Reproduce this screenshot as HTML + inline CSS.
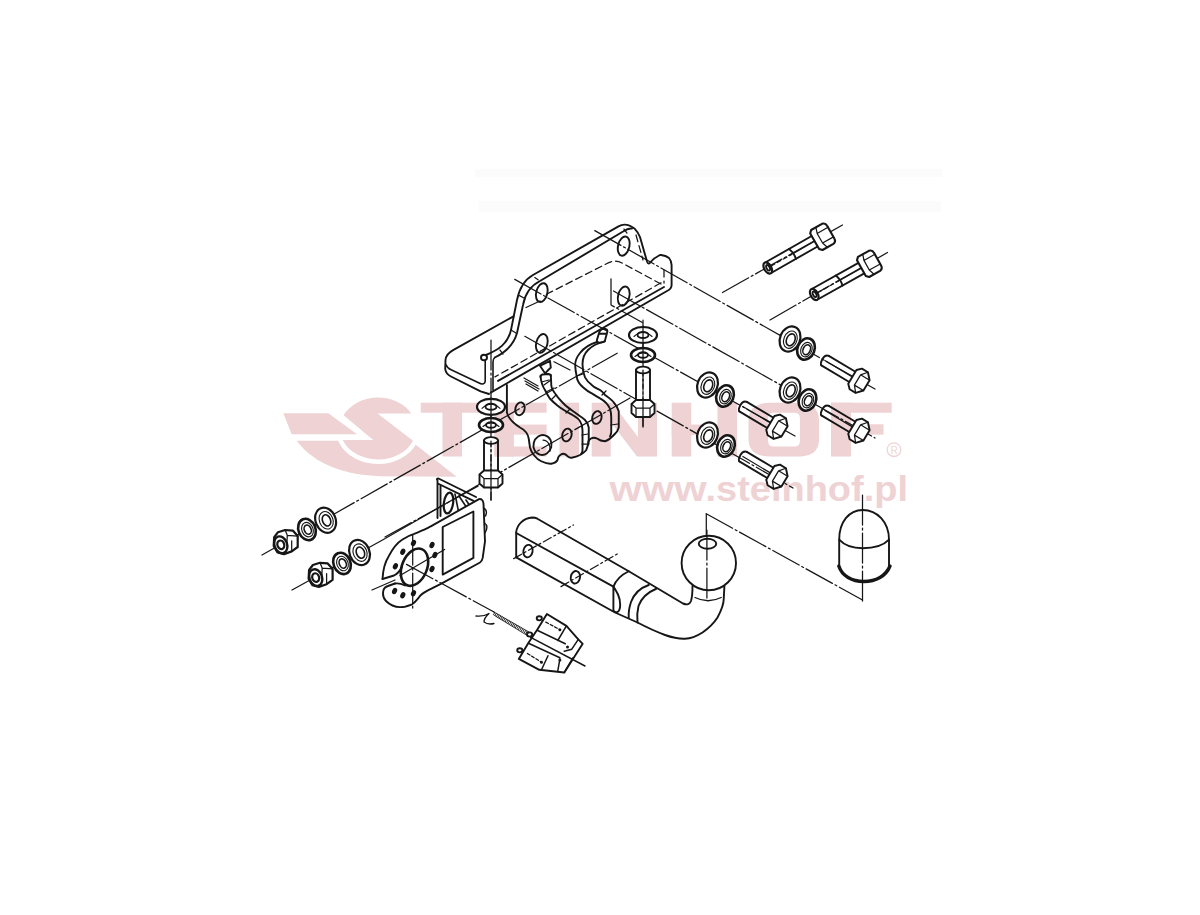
<!DOCTYPE html>
<html><head><meta charset="utf-8"><title>Steinhof tow bar</title>
<style>
html,body{margin:0;padding:0;background:#fff;}
body{width:1200px;height:915px;overflow:hidden;position:relative;font-family:"Liberation Sans",sans-serif;}
svg{position:absolute;left:0;top:0;}
.wm{fill:#eed2d4;}
.ln{fill:none;stroke:#161616;stroke-width:1.9;stroke-linecap:round;stroke-linejoin:round;}
.th{stroke-width:2.2;}
.tn{stroke-width:1.25;}
.dd{stroke-dasharray:30 3 2 3;}
.ds{stroke-dasharray:7 4;}
.fw{fill:#fff;}
</style></head>
<body>
<svg width="1200" height="915" viewBox="0 0 1200 915">
<g fill="#fbfbfb">
  <rect x="475" y="169" width="467" height="8"/>
  <rect x="479" y="201" width="462" height="11"/>
</g>
<!-- WATERMARK -->
<g class="wm">
  <path d="M283.3,413.3 L328.3,413.3 L357,434.2 L291.7,434.2 Z"/>
  <path d="M296.7,440.8 L410.6,440.8 L456.7,476.7 L380,476.2 C345,475 315,465 296.7,440.8 Z"/>
  <path d="M377.5,413.4 L411.1,413.4 A38,31 0 0 0 343.6,415.3 L373.3,440 L342.7,440 A38,31 0 0 0 413,440.7 Z" stroke="#fff" stroke-width="9" paint-order="stroke"/>
  <!-- T -->
  <rect x="420.8" y="402.7" width="62.8" height="10"/>
  <rect x="442.5" y="402.7" width="19.5" height="53.8"/>
  <!-- E -->
  <rect x="494.4" y="402.7" width="19.5" height="53.8"/>
  <rect x="494.4" y="402.7" width="52.2" height="10"/>
  <rect x="494.4" y="424.6" width="52.2" height="10"/>
  <rect x="494.4" y="446.5" width="52.2" height="10"/>
  <!-- I -->
  <rect x="559.5" y="402.7" width="19.5" height="53.8"/>
  <!-- N -->
  <path d="M591.7,402.7 L612,402.7 L638,437 L638,402.7 L657,402.7 L657,456.5 L637,456.5 L610.7,422 L610.7,456.5 L591.7,456.5 Z"/>
  <!-- H -->
  <rect x="671.7" y="402.7" width="19.5" height="53.8"/>
  <rect x="717.5" y="402.7" width="19.5" height="53.8"/>
  <rect x="671.7" y="424.6" width="65" height="10.5"/>
  <!-- O -->
  <path fill-rule="evenodd" d="M770,402.7 L798,402.7 C813,402.7 819,410 819,420 L819,439 C819,450 813,456.5 798,456.5 L770,456.5 C755,456.5 748.5,450 748.5,439 L748.5,420 C748.5,410 755,402.7 770,402.7 Z M774,412.7 C769,412.7 768,415 768,420 L768,439 C768,444 769,446.5 774,446.5 L794,446.5 C799,446.5 800,444 800,439 L800,420 C800,415 799,412.7 794,412.7 Z"/>
  <!-- F -->
  <rect x="831" y="402.7" width="20" height="53.8"/>
  <rect x="831" y="402.7" width="60.7" height="10"/>
  <rect x="831" y="424.3" width="52.5" height="10.3"/>
  <!-- (R) -->
  <circle cx="894" cy="449.7" r="6.8" fill="none" stroke="#efd4d4" stroke-width="1.3"/>
  <text x="894" y="453.5" font-size="10" text-anchor="middle" font-family="Liberation Sans" fill="#efd4d4">R</text>
  <text x="609.5" y="501" font-size="34.5" font-weight="bold" font-family="Liberation Sans" textLength="97" lengthAdjust="spacingAndGlyphs">www</text>
  <text x="705.5" y="501" font-size="34.5" font-weight="bold" font-family="Liberation Sans" textLength="202.5" lengthAdjust="spacingAndGlyphs">.steinhof.pl</text>
</g>
<!-- DRAWING -->
<g class="ln" id="drawing">

<defs>
  <!-- washer facing X axis (bolts going down-right) -->
  <g id="wXb">
    <ellipse rx="10" ry="13" transform="rotate(22)" class="th" fill="#fff"/>
    <ellipse rx="6.5" ry="9" transform="rotate(22) translate(0.6,0.5)" stroke-width="1.1"/>
    <ellipse rx="4.2" ry="6.2" transform="rotate(22) translate(1,0.5)" stroke-width="1.6"/>
  </g>
  <g id="wXs">
    <ellipse rx="8.5" ry="11" transform="rotate(22)" class="th" style="stroke-width:2.6" fill="#fff"/>
    <ellipse rx="5.5" ry="7.5" transform="rotate(22) translate(0.6,0.4)" stroke-width="1.1"/>
    <ellipse rx="3.6" ry="5.2" transform="rotate(22) translate(0.9,0.4)" stroke-width="1.6"/>
  </g>
  <!-- short bolt along X: local origin at shank end -->
  <g id="bX">
    <path d="M2,-6 L34,-6 M0.5,6 L33,6" fill="none"/>
    <path d="M1,0 L34,0" class="tn"/>
    <path d="M2,-6 Q-2,-5.5 -1.8,0 Q-1.5,5.5 0.5,6"/>
    <path d="M33,-8 L37,-12 L44,-12 L49.5,-6 L49.5,6 L44,12 L37,12 L33,8 Z" fill="#fff"/>
    <path d="M44,-12 L39,-6 L39,6 L44,12 M39,-6 L49.5,-6 M39,6 L49.5,6" class="tn"/>
  </g>
  <!-- long bolt -->
  <g id="bL">
    <path d="M1,-6 L55,-6 M1,6 L57,6" />
    <path d="M28,-6 Q30.5,0 29,6" />
    <path d="M30,0 L56,0" class="tn"/>
    <path d="M4,0 L28,0" class="tn" stroke-dasharray="4 3"/>
    <ellipse cx="0" cy="0" rx="3.6" ry="6.2" fill="#fff" stroke-width="2.2"/>
    <ellipse cx="0.4" cy="0" rx="1.6" ry="3"/>
    <path d="M54,-9 L56.5,-11.5 L69,-11.5 Q72.5,-11 72.5,-7 L72.5,7 Q72.5,11 69,11.5 L56.5,11.5 L54,9 Z" fill="#fff" stroke-width="2.1"/>
    <path d="M62,-11.5 L60,-5.5 L60,5.5 L62,11.5 M60,-5.5 L72.5,-5.5 M60,5.5 L72.5,5.5" class="tn"/>
  </g>
  <!-- washers along Y axis (left nuts) -->
  <g id="wYb">
    <ellipse rx="10" ry="13" transform="rotate(-22)" class="th" fill="#fff"/>
    <ellipse rx="6.8" ry="9" transform="rotate(-22) translate(0.5,0.3)" stroke-width="1.1"/>
    <ellipse rx="4" ry="5.8" transform="rotate(-22) translate(0.8,0.5)" stroke-width="1.6"/>
  </g>
  <g id="wYs">
    <ellipse rx="8.5" ry="11" transform="rotate(-22)" class="th" style="stroke-width:2.6" fill="#fff"/>
    <ellipse rx="5.6" ry="7.5" transform="rotate(-22) translate(0.4,0.3)" stroke-width="1.1"/>
    <ellipse rx="3.4" ry="4.8" transform="rotate(-22) translate(0.6,0.4)" stroke-width="1.6"/>
  </g>
  <g id="nY">
    <path d="M-6.6,-7.6 L-2.8,-12.6 L4.3,-14.8 L12,-14.2 L16.9,-8.7 L16.9,2.2 L10.9,6.6 L3.2,9.3 L-3.3,7.7 L-7.1,1.1 Z" fill="#fff" class="th"/>
    <ellipse rx="6.3" ry="8.6" transform="rotate(-20)" stroke-width="2.4"/>
    <ellipse rx="3.4" ry="4.4" transform="rotate(-20)" stroke-width="2.2"/>
    <path d="M4.3,-14.8 L6.5,-9.5 L16.9,-8.7 M6.5,-9.5 L6,0 M10.9,-4 L10.9,6.6" class="tn"/>
  </g>
  <!-- vertical washer -->
  <g id="wZb">
    <ellipse rx="14" ry="8" class="th" fill="#fff"/>
    <path d="M-9,1.5 Q0,-7 9,1.5" stroke-width="1.1"/>
    <ellipse rx="5.5" ry="3" stroke-width="1.9"/>
  </g>
  <g id="wZs">
    <ellipse rx="12" ry="7" class="th" style="stroke-width:2.6" fill="#fff"/>
    <path d="M-8,1.5 Q0,-6 8,1.5" stroke-width="1.1"/>
    <ellipse rx="5" ry="2.8" stroke-width="1.9"/>
  </g>
  <g id="bZ">
    <path d="M-7,0 L-7,31 M7,0 L7,31" />
    <ellipse rx="7" ry="3.4" fill="#fff"/>
    <path d="M-11.5,34 L-7,30 L7,30 L11.5,34 L11.5,43 L7,47 L-7,47 L-11.5,43 Z" fill="#fff"/>
    <path d="M-11.5,34 L-7,38 L7,38 L11.5,34 M-7,38 L-7,47 M7,38 L7,47" class="tn"/>
  </g>
</defs>

<!-- center lines (dash-dot) -->
<g class="tn dd">
  <path d="M594.8,230.6 L875,389"/>
  <path d="M613.5,291 L875,438"/>
  <path d="M514.8,279.4 L795,436"/>
  <path d="M524.8,336.3 L793,488"/>
  <path d="M722.5,292.5 L842.5,225"/>
  <path d="M770,320 L887.5,252.5"/>
  <path d="M262,555 L617.2,353.2"/>
  <path d="M292,590 L385.6,538.3 M476,486.3 L630,398"/>
  <path d="M491,340 L491,500"/>
  <path d="M643,320 L643,427"/>
  <path d="M611,278.8 L611,305 L642.3,322.5"/>
  <path d="M385,537 L480,485"/>
            <path d="M706.3,513.8 L862.5,600"/>
    <path d="M862.5,495 L862.5,602"/>
  </g>
<path class="tn" d="M706.3,513.8 L706.3,540"/>

<!-- MAIN BRACKET -->
<g>
  <!-- flange left end -->
  <path d="M513.5,316.3 L453.1,350.1 Q446,354 445.5,360 L445.2,369.1 Q446,374 451,376.5 L480.6,391.4 L489,394"/>
  <path d="M445.9,364.5 Q447,368 451.1,369.8 L478.6,382.8 Q482.6,385 484.5,383 Q485.2,382 485.2,380.9 L485.2,361" stroke-width="1.6"/>
  <!-- S-profile outer & inner top edges -->
  <path d="M486,355 C498,350 508,344 511,330 L517,300 C519,290 524,280 533,275 L618.5,226.3 Q626,222 634.8,228.8 Q638,232 640,237 L647,261.5 Q648.5,265.5 650.6,262 Q654,258 659.9,255 L661,255 Q666,255.5 669,258 Q671.6,261 671.6,265 L671.6,285 Q671.6,289 667,291 L490.7,392.6"/>
  <path d="M494.8,357.5 C506,352 514,344 517,333 L523,305 C525,294 530,286 540,281 L623.5,231.3 Q628,228 632,228.5"/>
  <path d="M664,287 L498,380.9"/>
  <path d="M664,270 L664,283" class="tn ds"/>
  <path d="M661,284 L622,263 Q614,259 606,264 L543,296" class="tn ds"/>
  <path d="M526,307.5 L540,301" class="tn"/>
  <path d="M534.8,277.6 L538.1,279.8 M519.5,295.6 L524.4,298.3 M511,330 L516,333 M500,350 L503,354 M624,229 L627,233" class="tn"/>
  <path d="M661,282.8 L495,376.9" class="tn ds"/>
  <path d="M636,235 L643,260" class="tn ds"/>
  <path d="M494.8,357.5 Q493,359 493,362 L493,390" stroke-width="1.6"/>
  <ellipse cx="484" cy="357.5" rx="3" ry="2.8"/>
  <!-- holes -->
  <ellipse cx="541.8" cy="292.6" rx="5.6" ry="9.6" transform="rotate(14 541.8 292.6)"/>
  <ellipse cx="541.8" cy="343.4" rx="5.6" ry="9.6" transform="rotate(14 541.8 343.4)"/>
  <ellipse cx="623.7" cy="246.1" rx="5.6" ry="9.8" transform="rotate(14 623.7 246.1)"/>
  <ellipse cx="623.7" cy="296.1" rx="5.6" ry="9.8" transform="rotate(14 623.7 296.1)"/>
</g>

<!-- HANGING SIDE PLATES -->
<g>
  <!-- back plate (arm 2) -->
  <path d="M596.9,342 C590,344 584,348 580,353 C576,358 575,362 575.2,365.6 C575.4,370 576,373 576.6,376.1 C577,380 578.5,383.5 583.3,387.5 C586,390 589,392 591.7,393.3 C594,395 597,396.5 600,398.3 C605,401 608,404 610,408.75 C611,412 611.25,415 611.25,417.5 L611.25,432.5 C611,434 610.5,435.5 610,436.25"/>
  <path d="M599.5,331.6 Q601,328.5 605.4,328.9 Q607.6,329.5 607.4,331.6 L604.7,341.4 Q603,343 599,342.5 Q596.5,342 596.9,340 Z M600,333.8 L606.6,333.8"/>
  <path d="M604.7,341.4 C598,343 592,346 588,350 C584,354 582.5,360 582.5,364.3 C582.5,370 583.5,374 585,377.4 C587,381 589,383 591.6,384.8 C594,387.5 597,388.5 600,390 C603,392 604,394 605,395 C609,398 612,400 613.75,402.5 C616,405 618,408 618.75,411.25 L618.75,427.5 C618,430 617,432 615,433.75 C613,436 609,440 605,441.25 C601,441 599,440 597.5,438.75 C596,438 594,437 591,438.5 C588.5,440 588,442 588.5,444"/>
  <path d="M602,395 L606,391 M611,425 L618,424 M577,376 L583,374" class="tn"/>
  <!-- front plate -->
  <path d="M506.9,385 L506.9,412.5 C508,417 513,423 520,427.5 C525,430 528,434 528.75,438.75 L530,447.5 C531,452 536,459 541.25,461.25 C545,463 549,464 551.25,463.75 C555,463 557,461 557.5,460 C558,457 560,455 561,454.5 C563,453 566,454 567.5,456.25 C569,457.5 571,458 572.5,457.5 C576,457 578,456 580,455 C583,453 586,451 586.25,450 C588,446 588.75,443 588.75,440 L588.75,427.5 C588,424 587,422 585,420 C582,417 578,415 575,412.5 C570,409 567,407 565,405 C561,401 558,398 556.25,395 C553,391 551,386 551.25,383.75 L550.8,375"/>
  <path d="M540.5,376 C541,382 543,387 545,390 C547,394 548,396 550,398.75 C554,403 557,405 560,407.5 C565,411 569,413 572.5,415 C576,417 579,419 580,421.25 C582,424 582.5,427 582.5,430 L582.5,450 C582.5,452 582,453 581.25,453.75"/>
  <path d="M540,365.8 L550,360.8 L550.8,367.5 L545,373.3 Z M540.5,377 Q540.5,375 542.5,374.5 L548.3,374 Q550.5,374 550.8,376"/>
  <path d="M544,385 L551,380 M546,392 L554,388" class="tn"/>
  <path d="M541.5,382 L549,380 M552,399 L556,395 M566,413 L570,409 M582,435 L588,434 M582,444 L588,444" class="tn"/>
  <path d="M524,378 L538,386 M525,381 L539,389 M526,384 L538,391" class="tn"/>
  <path d="M554,361.7 L570,370" class="tn"/>
  <ellipse cx="520" cy="408.8" rx="4.6" ry="6.5" transform="rotate(15 520 408.8)"/>
  <ellipse cx="542.5" cy="445" rx="9" ry="10" transform="rotate(15 542.5 445)"/>
  <path d="M543,440 C548,440 551,446 550,451" class="tn"/>
  <ellipse cx="566.9" cy="435" rx="4.6" ry="6.5" transform="rotate(15 566.9 435)"/>
  <ellipse cx="596.9" cy="417.5" rx="4.6" ry="6.5" transform="rotate(15 596.9 417.5)"/>
</g>

<!-- STACKS -->
<use href="#bZ" x="491" y="440.5"/>
<use href="#wZs" x="491" y="425"/>
<use href="#wZb" x="491" y="406.8"/>
<use href="#bZ" x="643" y="370"/>
<use href="#wZs" x="643" y="355"/>
<use href="#wZb" x="643" y="335"/>

<!-- overlay axes -->
<path d="M491,398 L491,432 M491,470 L491,500 M643,326 L643,362 M643,398 L643,427" class="tn"/>
<path d="M491,441 L491,470 M643,370 L643,398" class="tn" style="stroke-dasharray:6 3 2 3"/>
<!-- RIGHT ROWS -->
<use href="#wXb" x="790" y="339"/>
<use href="#wXs" x="806" y="349"/>
<g transform="translate(824,360) rotate(30.8)"><use href="#bX"/></g>
<use href="#wXb" x="790" y="390"/>
<use href="#wXs" x="807.5" y="400"/>
<g transform="translate(824,410) rotate(30.8)"><use href="#bX"/></g>
<use href="#wXb" x="707.5" y="385"/>
<use href="#wXs" x="725" y="396"/>
<g transform="translate(742,406) rotate(30.8)"><use href="#bX"/></g>
<use href="#wXb" x="707.5" y="435"/>
<use href="#wXs" x="726" y="446"/>
<g transform="translate(742,456) rotate(30.8)"><use href="#bX"/></g>
<!-- long bolts -->
<g transform="translate(767.75,268) rotate(-29.7)"><use href="#bL"/></g>
<g transform="translate(814.25,294.5) rotate(-29.2)"><use href="#bL"/></g>


<!-- SOCKET PLATE -->
<g>
  <!-- top bracket -->
  <path d="M437.5,480.5 Q436,478.5 438.5,478.5 L476,497 M437.8,483.5 L473.5,500.8 M437.5,480.5 L437.5,518 M440.5,485 L440.5,516" />
  <ellipse cx="448.5" cy="503" rx="4.6" ry="10.5" transform="rotate(8 448.5 503)" stroke-width="2.2"/>
  <path d="M455,494 L459,514 M459,496 L467,508 L462,512 M466,500 L470,506" stroke-width="1.6"/>
  <!-- plate -->
  <path d="M382.5,579 C383,570 385,562 388.6,556.4 C393,548 397,543 402.1,539.8 C406,537 410,535 414.2,533.8 C419,532 422,530.5 424.8,529.3 C427,528.5 429,527.5 430.8,526.3 L479,499.1 Q482.8,498.5 483.5,503.6 L485,541.3 L482.7,557.9 Q482,561.5 480,562.5 L440.9,583.9 L427.9,590.4 C423,593 420,595 418.6,597.8 C416,601 414,603 412.1,604.3 C408,606 404,607.2 400,607.1 C395,607 390,605 386,601 C383,598 382.5,594 383.5,590 Q384.5,587 388,586 L395,583.5" fill="#fff"/>
  <path d="M382.5,579 L394,575.5 C397,574 400,571 402,567 M395,583.5 C399,583 402,584 405,585.5" />
  <path d="M483.5,508 Q488,510 485.5,516 M484.5,523 Q489,526 485,533" stroke-width="1.4"/>
  <ellipse cx="414.5" cy="567.2" rx="12.5" ry="19.5" transform="rotate(22 414.5 567.2)" stroke-width="2.6"/>
  <path d="M442.7,527 L473.4,511.5 L473.4,557.9 L442.7,574.6 Z"/>
  <g fill="#161616" stroke="none">
    <ellipse cx="413.5" cy="543" rx="2.4" ry="3.3" transform="rotate(25 413.5 543)"/>
    <ellipse cx="432" cy="544.9" rx="2.4" ry="3.3" transform="rotate(25 432 544.9)"/>
    <ellipse cx="434.9" cy="555.1" rx="2.4" ry="3.3" transform="rotate(25 434.9 555.1)"/>
    <ellipse cx="432" cy="569" rx="2.4" ry="3.3" transform="rotate(25 432 569)"/>
    <ellipse cx="402.8" cy="551.8" rx="2.4" ry="3.3" transform="rotate(25 402.8 551.8)"/>
    <ellipse cx="395.4" cy="566.2" rx="2.4" ry="3.3" transform="rotate(25 395.4 566.2)"/>
    <ellipse cx="394.6" cy="591.1" rx="2.4" ry="3.3" transform="rotate(25 394.6 591.1)"/>
    <ellipse cx="402.8" cy="595.3" rx="2.4" ry="3.3" transform="rotate(25 402.8 595.3)"/>
    <ellipse cx="413.5" cy="593.2" rx="2.4" ry="3.3" transform="rotate(25 413.5 593.2)"/>
  </g>
  <path d="M400,575.5 L444.6,549.5" class="tn"/>
  <path d="M406.5,564.4 L494,612" class="tn dd"/>
  <path d="M412.7,535 L412.7,610" class="tn dd"/>
  <path d="M385.6,538.3 L476,486.3" class="tn"/>
  <path d="M372,590 L395,580" class="tn"/>
</g>

<!-- WIRE + PLUG -->
<g>
  <path d="M476,616 Q483,617 489,613.5 Q484,618 484,622 Q488,625 494,623.5" stroke-width="1.3"/>
  <path d="M493.8,613.4 L529,634" stroke-width="3.6" stroke-dasharray="0.8 0.9" stroke-linecap="butt"/>
  <path d="M493,611.5 L529,632 M494.5,615.5 L528,636" stroke-width="0.8"/>
  <path d="M546.9,614 L566.4,625.9 L578.3,639.4 L582.7,643.8 L564.3,672.5 L539.3,669.8 L518.8,658.9 L528.5,642.7 L537.2,629.7 Z" fill="#fff"/>
  <path d="M537.2,630.2 L565.3,643.8 M530.7,637.3 L585,666 M528.5,643.2 L559.9,657.8 M566.4,625.9 L557.8,640.5 M578.3,639.4 L571.8,649.2 L564.3,651.3 M548,655.7 L541.5,669.8 M559.9,658.9 L557.8,670.8 M572.9,657.8 L564.3,672.5" stroke-width="1.5"/>
  <ellipse cx="539.3" cy="618.3" rx="2.6" ry="2.1"/>
  <ellipse cx="529.6" cy="634.5" rx="2.6" ry="2.1"/>
  <ellipse cx="519.8" cy="650.3" rx="2.6" ry="2.1"/>
  <g fill="#161616" stroke="none">
    <circle cx="559.9" cy="629.7" r="1.5"/><circle cx="567.5" cy="647" r="1.5"/><circle cx="559.9" cy="660" r="1.5"/><circle cx="541.5" cy="662.2" r="1.5"/>
  </g>
  <path d="M545.8,622.1 L559.9,629.7 M527.4,653.5 L541.5,662.2" class="tn" style="stroke-dasharray:3 2"/>
</g>

<!-- TOW BAR -->
<g>
  <path d="M516.2,557.3 L516.2,532 C517,525 523,518 532.4,517.5 Q535,517.5 537.4,518.7 L628.75,571.25 L683,603.5 Q689,606 691,601 Q692.5,596 692.5,586"/>
  <path d="M516.2,533 L613.4,586.6"/>
  <path d="M516.2,557.3 L615,612.5 L637.5,622.5 C650,629 657,632 665,635 C672,637.5 678,639 685,638.75 C692,638.5 697,636 702.5,632.5 C709,628 714,623 717.5,617.5 C721,611 723.75,604 723.75,598.75 L724.4,586.25"/>
  <path d="M613.4,586.6 L613.4,610 Q614.5,613 617.5,612 C621,610 621,601 618,594.5 Q615.5,589.5 613.4,586.6"/>
  <path d="M628.75,571.25 C621,575 615.5,581 613.4,586.6"/>
  <path d="M648.75,585 C640,588 634,594 631,602 C629,608 628.5,614 628.75,617.5"/>
  <path d="M656.25,588.75 C646,593 641,599 638.5,606 C637,612 637,618 637.5,622.5"/>
  <path d="M695,597.5 Q708,604 721.25,597.5" class="tn"/>
  <circle cx="708.8" cy="563" r="27.2" fill="#fff"/>
  <ellipse cx="707.5" cy="543.75" rx="8.75" ry="5"/>
  <path d="M706.9,530 L706.9,600" class="tn dd"/>
  <ellipse cx="528" cy="551.1" rx="4.6" ry="6.3" transform="rotate(12 528 551.1)"/>
  <ellipse cx="575.4" cy="577.3" rx="4.6" ry="6.3" transform="rotate(12 575.4 577.3)"/>
  <path d="M513.7,558.6 L573.5,525 M561,586.6 L617.8,553.6" class="tn" style="stroke-dasharray:9 3 2 3"/>
</g>

<!-- CAP -->
<g>
  <path d="M839.2,567 L839.2,539.7 C839.2,522 849,510 862.7,510 C877,510 889,522 889,539.7 L889,567" />
  <path d="M839.2,539.7 C845,546 854,548.3 862.7,548.3 C872,548.3 883,546 889,539.7" />
  <path d="M838.8,566 C842,576 852,581.5 863.8,581.5 C876,581.5 886,576 890,566" style="stroke-width:3.4"/>
</g>

<!-- LEFT NUTS -->
<use href="#nY" x="280.8" y="544.8"/>
<use href="#wYs" x="307" y="529.5"/>
<use href="#wYb" x="325.6" y="520.2"/>
<use href="#nY" x="315.7" y="577.6"/>
<use href="#wYs" x="342" y="563.4"/>
<use href="#wYb" x="359.5" y="552.5"/>
</g>
</svg>
</body></html>
